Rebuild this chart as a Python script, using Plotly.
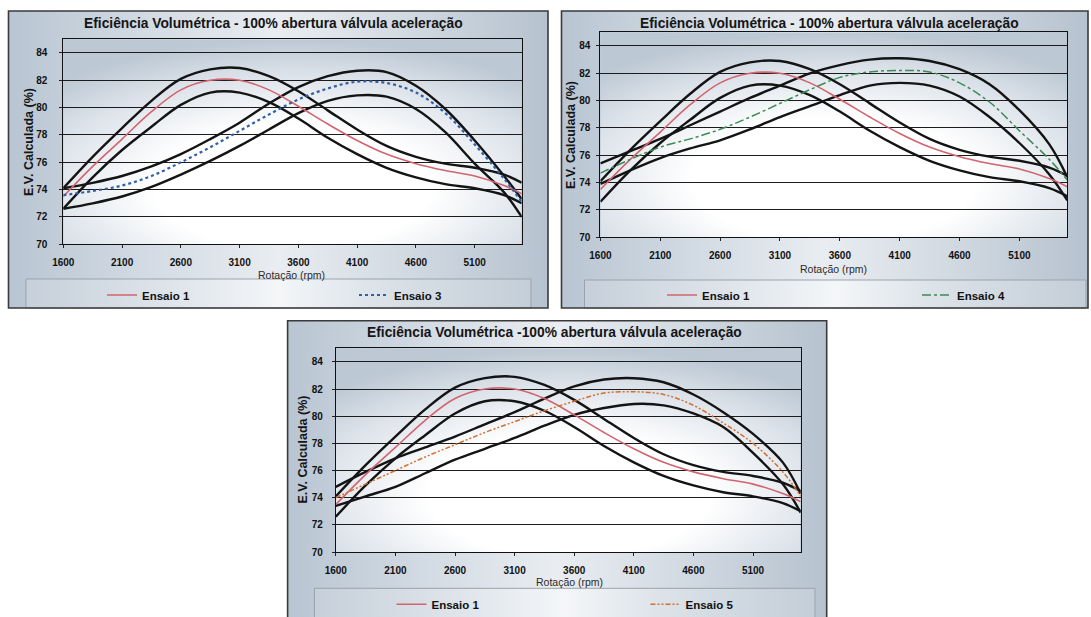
import base64
import plotly.graph_objects as go

W, H = 1091, 617

# Engine speed (rpm) at which each curve is sampled
rpm = [1600, 1850, 2100, 2350, 2600, 2850, 3100, 3350, 3600, 3850,
       4100, 4350, 4600, 4850, 5100, 5350, 5500]

# Ensaio 1 (reference run) with upper / lower limit curves
ensaio1 = [73.5, 75.7, 77.7, 79.7, 81.3, 82.0, 82.0, 81.3, 80.1, 78.8,
           77.6, 76.6, 75.9, 75.4, 75.0, 74.3, 73.7]
ensaio1_sup = [74.1, 76.4, 78.5, 80.5, 82.1, 82.8, 82.9, 82.3, 81.2, 79.8,
               78.4, 77.2, 76.4, 75.9, 75.6, 75.1, 74.5]
ensaio1_inf = [72.6, 74.9, 76.9, 78.6, 80.2, 81.1, 81.1, 80.4, 79.2, 77.8,
               76.6, 75.6, 74.9, 74.4, 74.1, 73.6, 73.0]

# Ensaio 3
ensaio3 = [73.6, 73.9, 74.3, 75.0, 76.0, 77.1, 78.3, 79.5, 80.6, 81.4,
           81.9, 81.8, 81.1, 79.6, 77.3, 74.8, 73.1]
ensaio3_sup = [74.1, 74.5, 75.0, 75.7, 76.6, 77.7, 78.9, 80.3, 81.5, 82.3,
               82.7, 82.6, 81.6, 79.9, 77.6, 75.0, 73.3]
ensaio3_inf = [72.6, 73.0, 73.5, 74.2, 75.1, 76.1, 77.2, 78.4, 79.6, 80.5,
               80.9, 80.8, 79.9, 78.2, 75.9, 73.8, 72.0]

# Ensaio 4
ensaio4 = [74.7, 75.7, 76.6, 77.2, 77.9, 78.8, 79.8, 80.8, 81.7, 82.1,
           82.2, 82.1, 81.3, 79.9, 77.8, 75.7, 74.2]
ensaio4_sup = [75.4, 76.3, 77.2, 78.2, 79.2, 80.2, 81.1, 82.0, 82.6, 83.0,
               83.1, 82.9, 82.3, 81.2, 79.3, 76.8, 74.4]
ensaio4_inf = [73.9, 74.9, 75.8, 76.5, 77.1, 77.9, 78.8, 79.6, 80.4, 81.1,
               81.3, 81.1, 80.3, 78.8, 76.9, 74.6, 72.7]

# Ensaio 5
ensaio5 = [74.0, 75.0, 76.0, 77.0, 77.9, 78.8, 79.6, 80.4, 81.1, 81.7,
           81.8, 81.6, 80.8, 79.5, 78.0, 75.9, 74.1]
ensaio5_sup = [74.8, 75.9, 76.9, 77.7, 78.5, 79.4, 80.3, 81.3, 82.2, 82.7,
               82.8, 82.5, 81.6, 80.3, 78.7, 76.6, 74.3]
ensaio5_inf = [73.4, 74.1, 74.8, 75.8, 76.8, 77.6, 78.4, 79.3, 80.1, 80.6,
               80.9, 80.8, 80.2, 79.2, 77.3, 75.0, 72.9]

x_ticks = [1600, 2100, 2600, 3100, 3600, 4100, 4600, 5100]
y_ticks = [70, 72, 74, 76, 78, 80, 82, 84]

titles = [
    "Eficiência Volumétrica - 100% abertura válvula aceleração",
    "Eficiência Volumétrica - 100% abertura válvula aceleração",
    "Eficiência Volumétrica -100% abertura válvula aceleração",
]
y_title = "E.V. Calculada (%)"
x_title = "Rotação (rpm)"

comparisons = [
    ("Ensaio 3", ensaio3, ensaio3_sup, ensaio3_inf),
    ("Ensaio 4", ensaio4, ensaio4_sup, ensaio4_inf),
    ("Ensaio 5", ensaio5, ensaio5_sup, ensaio5_inf),
]

# ---- page geometry (pixels) -------------------------------------------------
panels = [
    dict(frame=(8.5, 11, 548, 308), plot=(63.3, 39.3, 521.7, 244.3),
         title=(273, 24), ytitle=(29, 142), xtitle=(291, 275), ystand=10,
         legbox=(26, 279, 531, 308), leg=(142, 295), gap=207,
         style=("#2f5fa8", "dot", 2.2)),
    dict(frame=(561.5, 11, 1088, 308), plot=(600.4, 32.3, 1067.3, 237.3),
         title=(829, 24), ytitle=(571, 135), xtitle=(833, 269), ystand=4,
         legbox=(584.5, 280, 1086, 308), leg=(702, 295), gap=210,
         style=("#3c8a55", "dashdot", 1.5)),
    dict(frame=(287.6, 320.7, 826.7, 640), plot=(335.8, 348.3, 800.7, 552),
         title=(554, 332), ytitle=(302.5, 450), xtitle=(569, 582), ystand=7,
         legbox=(314.4, 588.3, 815, 640), leg=(431.5, 604.3), gap=209,
         style=("#d27030", "5px,2px,2px,2px,2px,2px", 1.5)),
]


def px(x):
    return x / W


def py(y):
    return 1 - y / H


def svg_uri(svg):
    return "data:image/svg+xml;base64," + base64.b64encode(svg.encode()).decode()


panel_bg = svg_uri(
    "<svg xmlns='http://www.w3.org/2000/svg' width='200' height='100' viewBox='0 0 200 100' "
    "preserveAspectRatio='none'><defs><linearGradient id='g' x1='0' y1='0' x2='1' y2='0'>"
    "<stop offset='0' stop-color='#b8c5d2'/><stop offset='0.25' stop-color='#d2dae3'/>"
    "<stop offset='0.5' stop-color='#e9edf1'/><stop offset='0.78' stop-color='#cdd6df'/>"
    "<stop offset='1' stop-color='#b6c2cf'/></linearGradient></defs>"
    "<rect width='200' height='100' fill='url(#g)'/></svg>")

plot_bg = svg_uri(
    "<svg xmlns='http://www.w3.org/2000/svg' width='200' height='100' viewBox='0 0 200 100' "
    "preserveAspectRatio='none'><defs><radialGradient id='r' cx='0.5' cy='0.72' r='0.72'>"
    "<stop offset='0' stop-color='#ffffff'/><stop offset='0.42' stop-color='#ffffff'/>"
    "<stop offset='0.75' stop-color='#dde3ea'/><stop offset='1' stop-color='#bcc8d4'/>"
    "</radialGradient></defs><rect width='200' height='100' fill='url(#r)'/></svg>")

legend_bg = svg_uri(
    "<svg xmlns='http://www.w3.org/2000/svg' width='200' height='100' viewBox='0 0 200 100' "
    "preserveAspectRatio='none'><defs><linearGradient id='l' x1='0' y1='0' x2='1' y2='0'>"
    "<stop offset='0' stop-color='#c6d0da'/><stop offset='0.35' stop-color='#e4e9ee'/>"
    "<stop offset='0.5' stop-color='#f4f6f8'/><stop offset='0.7' stop-color='#dbe2e8'/>"
    "<stop offset='1' stop-color='#c4ced8'/></linearGradient></defs>"
    "<rect width='200' height='100' fill='url(#l)'/></svg>")

TICK_FONT = dict(family="Liberation Sans", size=10, color="#111111", weight="bold")

fig = go.Figure()
images, shapes, annotations = [], [], []
layout_axes = {}

for i, (p, (name, serie, serie_sup, serie_inf), title) in enumerate(zip(panels, comparisons, titles)):
    n = "" if i == 0 else str(i + 1)
    xa, ya = "x" + n, "y" + n
    leg = "legend" + n
    color, dash, width = p["style"]

    # limit curves
    for band in (ensaio1_sup, ensaio1_inf, serie_sup, serie_inf):
        fig.add_trace(go.Scatter(x=rpm, y=band, mode="lines", xaxis=xa, yaxis=ya,
                                 line=dict(color="#141414", width=2.4, shape="spline"),
                                 showlegend=False, hoverinfo="skip"))
    fig.add_trace(go.Scatter(x=rpm, y=ensaio1, mode="lines", name="Ensaio 1",
                             xaxis=xa, yaxis=ya, legend=leg, legendwidth=p["gap"],
                             line=dict(color="#d2646e", width=1.6, shape="spline")))
    fig.add_trace(go.Scatter(x=rpm, y=serie, mode="lines", name=name,
                             xaxis=xa, yaxis=ya, legend=leg, legendwidth=55,
                             line=dict(color=color, width=width, dash=dash, shape="spline")))

    x0, y0, x1, y1 = p["plot"]
    layout_axes["xaxis" + n] = dict(
        domain=[px(x0), px(x1)], anchor=ya, range=[1600, 5500],
        tickvals=x_ticks, ticks="outside", ticklen=3, tickcolor="#222",
        showgrid=False, zeroline=False, showline=True, linecolor="#111", linewidth=1,
        mirror=True, tickfont=TICK_FONT, ticklabelstandoff=6)
    layout_axes["yaxis" + n] = dict(
        domain=[py(y1), py(y0)], anchor=xa, range=[70, 85],
        tickvals=y_ticks, ticks="outside", ticklen=3, tickcolor="#222",
        showgrid=True, gridcolor="#1c1c1c", gridwidth=1, zeroline=False,
        showline=True, linecolor="#111", linewidth=1, mirror=True,
        tickfont=TICK_FONT, ticklabelstandoff=p["ystand"])

    fx0, fy0, fx1, fy1 = p["frame"]
    images.append(dict(source=panel_bg, xref="paper", yref="paper", x=px(fx0), y=py(fy0),
                       sizex=px(fx1 - fx0), sizey=(fy1 - fy0) / H, sizing="stretch",
                       xanchor="left", yanchor="top", layer="below"))
    lx0, ly0, lx1, ly1 = p["legbox"]
    images.append(dict(source=legend_bg, xref="paper", yref="paper", x=px(lx0), y=py(ly0),
                       sizex=px(lx1 - lx0), sizey=(ly1 - ly0) / H, sizing="stretch",
                       xanchor="left", yanchor="top", layer="below"))
    images.append(dict(source=plot_bg, xref="paper", yref="paper", x=px(x0), y=py(y0),
                       sizex=px(x1 - x0), sizey=(y1 - y0) / H, sizing="stretch",
                       xanchor="left", yanchor="top", layer="below"))
    shapes.append(dict(type="rect", xref="paper", yref="paper", x0=px(lx0), x1=px(lx1),
                       y0=py(ly1), y1=py(ly0), line=dict(color="#9aa3ad", width=1), layer="below"))
    shapes.append(dict(type="rect", xref="paper", yref="paper", x0=px(fx0), x1=px(fx1),
                       y0=py(fy1), y1=py(fy0), line=dict(color="#3a3a3a", width=1.6), layer="below"))

    tx, ty = p["title"]
    annotations.append(dict(text=title, x=px(tx), y=py(ty), xref="paper", yref="paper",
                            showarrow=False, xanchor="center", yanchor="middle",
                            font=dict(family="Liberation Sans", size=13.8, color="#151515", weight="bold")))
    yx, yy = p["ytitle"]
    annotations.append(dict(text=y_title, x=px(yx), y=py(yy), xref="paper", yref="paper",
                            showarrow=False, textangle=-90, xanchor="center", yanchor="middle",
                            font=dict(family="Liberation Sans", size=12.5, color="#151515", weight="bold")))
    xx, xy = p["xtitle"]
    annotations.append(dict(text=x_title, x=px(xx), y=py(xy), xref="paper", yref="paper",
                            showarrow=False, xanchor="center", yanchor="middle",
                            font=dict(family="Liberation Sans", size=10.5, color="#2a2a2a")))

    # legend entries: text of the first entry starts 40 px after the legend's left edge
    gx, gy = p["leg"]
    layout_axes[leg] = dict(orientation="h", x=px(gx - 40), y=py(gy), xanchor="left",
                            yanchor="middle", bgcolor="rgba(0,0,0,0)", borderwidth=0,
                            itemwidth=30, tracegroupgap=0,
                            font=dict(family="Liberation Sans", size=11.5, color="#111", weight="bold"))

fig.update_layout(
    width=W, height=H, margin=dict(l=0, r=0, t=0, b=0, autoexpand=False),
    paper_bgcolor="white", plot_bgcolor="rgba(0,0,0,0)",
    images=images, shapes=shapes, annotations=annotations,
    **layout_axes,
)

fig.write_html("out.html")
